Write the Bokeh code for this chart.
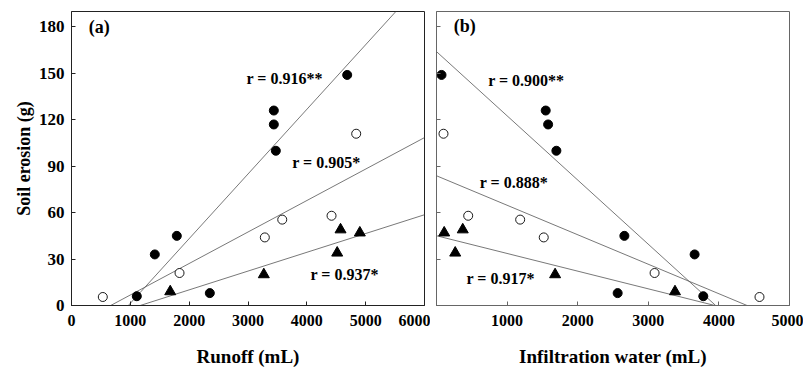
import numpy as np
from bokeh.plotting import figure
from bokeh.models import FixedTicker, Label
from bokeh.layouts import row
from bokeh.embed import file_html
from bokeh.resources import INLINE

# ---------------- data ----------------
# soil erosion (g) per sample group (shared by both panels)
erosion_filled = [6, 33, 45, 8, 126, 117, 100, 149]
erosion_open = [5.5, 21, 44, 55.5, 58, 111]
erosion_tri = [9, 20, 34, 49, 47]

# runoff (mL), panel (a)
runoff_filled = [1110, 1416, 1790, 2351, 3439, 3439, 3473, 4686]
runoff_open = [532, 1836, 3286, 3582, 4420, 4839]
runoff_tri = [1678, 3269, 4516, 4573, 4901]

# infiltration water (mL), panel (b)
infil_filled = [3779, 3656, 2661, 2566, 1547, 1581, 1698, 71]
infil_open = [4575, 3089, 1519, 1185, 449, 99]
infil_tri = [3378, 1680, 265, 372, 109]

# correlation labels
r_labels_a = ["r = 0.916**", "r = 0.905*", "r = 0.937*"]
r_labels_b = ["r = 0.900**", "r = 0.888*", "r = 0.917*"]

x_ticks_a = [0, 1000, 2000, 3000, 4000, 5000, 6000]
x_ticks_b = [0, 1000, 2000, 3000, 4000, 5000]
y_ticks = [0, 30, 60, 90, 120, 150, 180]

FONT = "Liberation Serif"
Y_RANGE = (0, 190)


def fit_segment(xs, ys, xr, yr):
    m, b = np.polyfit(np.asarray(xs, float), np.asarray(ys, float), 1)

    def clip_x(x):
        y = m * x + b
        if y < yr[0]:
            return (yr[0] - b) / m
        if y > yr[1]:
            return (yr[1] - b) / m
        return x

    xa, xb = clip_x(xr[0]), clip_x(xr[1])
    return [xa, xb], [m * xa + b, m * xb + b]


def style_axes(p, axis_color):
    p.xgrid.visible = False
    p.ygrid.visible = False
    for ax in (p.xaxis[0], p.yaxis[0]):
        ax.axis_line_color = axis_color
        ax.major_tick_line_color = axis_color
        ax.major_tick_in = 4
        ax.major_tick_out = 0
        ax.minor_tick_line_color = None
        ax.major_label_text_font = FONT
        ax.major_label_text_font_style = "bold"
        ax.major_label_text_color = "black"
        ax.axis_label_text_font = FONT
        ax.axis_label_text_font_style = "bold"
        ax.axis_label_text_color = "black"
    p.xaxis.major_label_text_font_size = "16px"
    p.yaxis.major_label_text_font_size = "17px"
    p.xaxis.major_label_standoff = 9
    p.xaxis.axis_label_text_font_size = "19px"
    p.xaxis.axis_label_standoff = 17


def add_series(p, xf, xo, xt, xr):
    for xs, ys in ((xf, erosion_filled), (xo, erosion_open), (xt, erosion_tri)):
        lx, ly = fit_segment(xs, ys, xr, Y_RANGE)
        p.line(lx, ly, line_color="#555555", line_width=0.8)
    p.scatter(xf, erosion_filled, marker="circle", size=9,
              fill_color="black", line_color="black")
    p.scatter(xo, erosion_open, marker="circle", size=9,
              fill_color="white", line_color="black", line_width=0.9)
    p.scatter(xt, erosion_tri, marker="triangle", size=11,
              fill_color="black", line_color="black")


def add_label(p, x, y, text, size="16px"):
    p.add_layout(Label(x=x, y=y, text=text, text_font=FONT,
                       text_font_style="bold", text_font_size=size,
                       text_color="black", text_align="left",
                       text_baseline="middle"))


# ---------------- panel (a) ----------------
pa = figure(width=430, height=369, x_range=(0, 6000), y_range=Y_RANGE,
            output_backend="svg", toolbar_location=None,
            min_border_left=71, min_border_right=6,
            min_border_top=11, min_border_bottom=64,
            x_axis_label="Runoff (mL)", y_axis_label="Soil erosion (g)")
pa.outline_line_color = "#222222"
style_axes(pa, "#222222")
pa.xaxis.ticker = FixedTicker(ticks=x_ticks_a)
pa.yaxis.ticker = FixedTicker(ticks=y_ticks)
pa.yaxis.major_label_standoff = 7
pa.yaxis.axis_label_text_font_size = "18px"
pa.yaxis.axis_label_standoff = 2
add_series(pa, runoff_filled, runoff_open, runoff_tri, (0, 6000))
add_label(pa, 294, 180, "(a)", "18px")
add_label(pa, 2975, 147, r_labels_a[0])
add_label(pa, 3752, 92.4, r_labels_a[1])
add_label(pa, 4063, 20.3, r_labels_a[2])

# ---------------- panel (b) ----------------
pb = figure(width=373, height=369, x_range=(0, 5000), y_range=Y_RANGE,
            output_backend="svg", toolbar_location=None,
            min_border_left=6, min_border_right=14,
            min_border_top=11, min_border_bottom=64,
            x_axis_label="Infiltration water (mL)")
pb.outline_line_color = "#666666"
style_axes(pb, "#666666")
pb.xaxis.ticker = FixedTicker(ticks=x_ticks_b)
pb.xaxis.major_label_overrides = {0: ""}
pb.yaxis.ticker = FixedTicker(ticks=y_ticks)
pb.yaxis.major_label_overrides = {t: "" for t in y_ticks}
pb.yaxis.major_label_standoff = 0
add_series(pb, infil_filled, infil_open, infil_tri, (0, 5000))
add_label(pb, 245, 180.7, "(b)", "18px")
add_label(pb, 732, 145.2, r_labels_b[0])
add_label(pb, 613, 79.5, r_labels_b[1])
add_label(pb, 425, 17.4, r_labels_b[2])

layout = row(pa, pb)
open("out.html", "w").write(file_html(layout, INLINE))
